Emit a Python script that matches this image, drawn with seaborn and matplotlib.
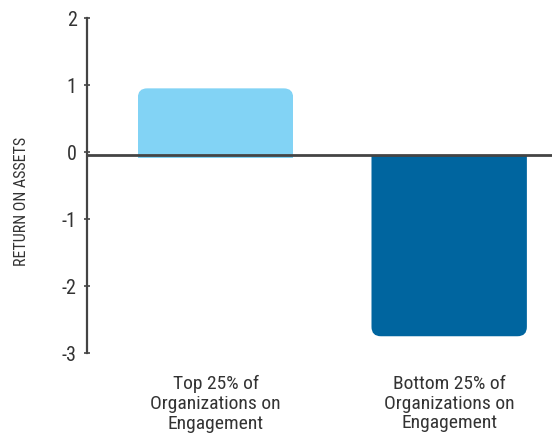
import matplotlib
matplotlib.use("Agg")
import matplotlib.pyplot as plt
import seaborn as sns
import pandas as pd
from matplotlib.patches import FancyBboxPatch, Rectangle
from matplotlib import font_manager

categories = ["Top 25% of\nOrganizations on\nEngagement", "Bottom 25% of\nOrganizations on\nEngagement"]
values = [0.95, -2.75]
colors = ["#82D3F5", "#00659F"]
yticks = [-3, -2, -1, 0, 1, 2]
ylabel = "RETURN ON ASSETS"

sns.set_theme(style="white")
names = {f.name for f in font_manager.fontManager.ttflist}
fam = "Liberation Sans"
for cand in ["Roboto Condensed", "Liberation Sans Narrow", "Open Sans Condensed"]:
    if cand in names:
        fam = cand
        break
plt.rcParams["font.family"] = [fam, "DejaVu Sans"]

df = pd.DataFrame({"cat": categories, "val": values})

fig = plt.figure(figsize=(5.52, 4.39), dpi=100)
ax = fig.add_axes([87/552, 1 - 354/439, 1 - 87/552, (354 - 19)/439])
sns.barplot(data=df, x="cat", y="val", hue="cat", palette=colors, width=0.665,
            legend=False, ax=ax, saturation=1)

ax.set_xlim(-0.55, 1.44)
ax.set_ylim(-3, 2)

base = -0.045  # drawn baseline sits slightly below the 0 tick
for p in list(ax.patches):
    x, y, w, h = p.get_x(), p.get_y(), p.get_width(), p.get_height()
    fc = p.get_facecolor()
    p.set_visible(False)
    if h >= 0:
        y0, y1 = y - 0.5, y + h
        clip = Rectangle((x, base - 0.04), w, h - base + 0.2, transform=ax.transData)
    else:
        y0, y1 = y + h, y + 0.5
        clip = Rectangle((x, y + h - 0.1), w, -h + 0.1 + base, transform=ax.transData)
    rb = FancyBboxPatch((x, min(y0, y1)), w, abs(y1 - y0),
                        boxstyle="round,pad=0,rounding_size=0.04",
                        mutation_aspect=3.5, facecolor=fc, edgecolor="none", zorder=2)
    ax.add_patch(rb)
    rb.set_clip_path(clip)

ax.axhline(base, color="#444444", lw=2, zorder=3)

for s in ["top", "right", "bottom"]:
    ax.spines[s].set_visible(False)
ax.spines["left"].set_color("#444444")
ax.spines["left"].set_linewidth(1.6)

ax.set_yticks(yticks)
ax.set_yticklabels([str(t) for t in yticks])
ax.tick_params(axis="y", direction="inout", length=5, width=1.2, color="#444444",
               labelsize=14.5, labelcolor="#333333", pad=5, left=True)
ax.tick_params(axis="x", length=0, labelsize=14, labelcolor="#333333", pad=15)
for lbl in ax.get_xticklabels():
    lbl.set_linespacing(1.13)

ax.set_xlabel("")
ax.set_ylabel(ylabel, fontsize=11.5, color="#333333")
ax.yaxis.set_label_coords(-0.124, 0.455)

fig.savefig("out.png", dpi=100)
